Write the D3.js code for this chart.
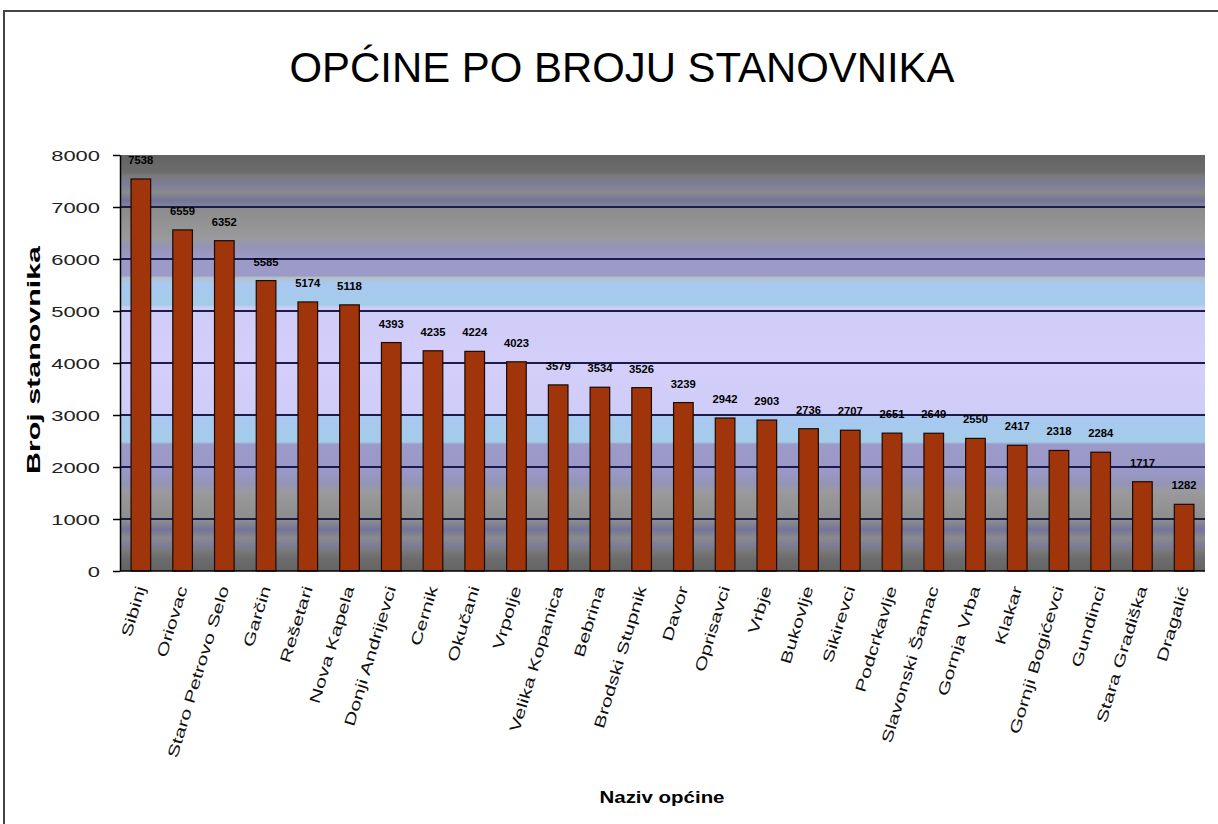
<!DOCTYPE html>
<html>
<head>
<meta charset="utf-8">
<script src="https://cdn.jsdelivr.net/npm/d3@7/dist/d3.min.js"></script>
<style>
  body { margin: 0; background: #fff; }
  svg text { font-family: "Liberation Sans", Arial, sans-serif; }
</style>
</head>
<body>
<div id="chart"></div>
<script>
// municipalities, sorted by population
var opcine = ['Sibinj', 'Oriovac', 'Staro Petrovo Selo', 'Garčin', 'Rešetari', 'Nova Kapela',
  'Donji Andrijevci', 'Cernik', 'Okučani', 'Vrpolje', 'Velika Kopanica', 'Bebrina',
  'Brodski Stupnik', 'Davor', 'Oprisavci', 'Vrbje', 'Bukovlje', 'Sikirevci', 'Podcrkavlje',
  'Slavonski Šamac', 'Gornja Vrba', 'Klakar', 'Gornji Bogićevci', 'Gundinci',
  'Stara Gradiška', 'Dragalić'];
var stanovnika = [7538, 6559, 6352, 5585, 5174, 5118, 4393, 4235, 4224, 4023, 3579, 3534,
  3526, 3239, 2942, 2903, 2736, 2707, 2651, 2649, 2550, 2417, 2318, 2284, 1717, 1282];
var yTicks = [0, 1000, 2000, 3000, 4000, 5000, 6000, 7000, 8000];

var W = 1218, H = 824;
var plotLeft = 120, plotRight = 1205, plotTop = 155, plotBottom = 571;

var svg = d3.select('#chart').append('svg')
  .attr('width', W).attr('height', H);

// frame round the whole chart
svg.append('rect')
  .attr('x', 4).attr('y', 11)
  .attr('width', 1240).attr('height', 840)
  .attr('fill', '#fff')
  .attr('stroke', '#444').attr('stroke-width', 2);

var x = d3.scaleBand().domain(opcine).range([plotLeft, plotRight]).paddingInner(0.53).paddingOuter(0.265);
var y = d3.scaleLinear().domain([0, 8000]).range([plotBottom, plotTop]);

// banded gradient fill of the plot area (symmetric, gray -> purple -> blue -> lavender)
var stops = [
  [0.00, '#646464'], [0.04, '#6c6c6c'], [0.05, '#7a7a7c'], [0.07, '#7c7c98'],
  [0.09, '#8a8a8c'], [0.11, '#74749c'], [0.13, '#8c8c8c'], [0.17, '#949494'],
  [0.20, '#9a9a9e'], [0.22, '#9494b6'], [0.25, '#9c9ac8'], [0.29, '#9c9ac8'],
  [0.295, '#b4c2c8'], [0.31, '#a8c8f2'], [0.36, '#a4cce8'], [0.367, '#d0ccf8'],
  [0.5, '#d3cffa'], [0.622, '#d0ccf8'], [0.63, '#a8c8f2'], [0.69, '#a4cce8'],
  [0.695, '#9c9ac8'], [0.76, '#9a98c8'], [0.79, '#9494b6'], [0.81, '#9a9a9e'],
  [0.84, '#949494'], [0.88, '#8c8c8c'], [0.90, '#74749c'], [0.92, '#8a8a8c'],
  [0.94, '#7c7c98'], [0.95, '#7a7a7c'], [0.97, '#6c6c6c'], [1.00, '#646464']
];
var grad = svg.append('defs').append('linearGradient')
  .attr('id', 'bg').attr('x1', 0).attr('y1', 0).attr('x2', 0).attr('y2', 1);
grad.selectAll('stop').data(stops).enter().append('stop')
  .attr('offset', function(d){ return d[0]; })
  .attr('stop-color', function(d){ return d[1]; });

svg.append('rect')
  .attr('x', plotLeft).attr('y', plotTop)
  .attr('width', plotRight - plotLeft).attr('height', plotBottom - plotTop)
  .attr('fill', 'url(#bg)');

// grid lines
svg.append('g').selectAll('line')
  .data(yTicks.filter(function(t){ return t > 0 && t < 8000; }))
  .enter().append('line')
  .attr('x1', plotLeft).attr('x2', plotRight)
  .attr('y1', function(d){ return y(d); }).attr('y2', function(d){ return y(d); })
  .attr('stroke', '#1c1c48').attr('stroke-width', 2);

// title
svg.append('text')
  .attr('x', 622).attr('y', 82)
  .attr('text-anchor', 'middle')
  .attr('font-size', 42)
  .attr('textLength', 665).attr('lengthAdjust', 'spacingAndGlyphs')
  .attr('fill', '#000')
  .text('OPĆINE PO BROJU STANOVNIKA');

// y axis
var yAxis = svg.append('g')
  .attr('transform', 'translate(' + plotLeft + ',0)')
  .call(d3.axisLeft(y).tickValues(yTicks).tickFormat(d3.format('d')).tickSize(7).tickSizeOuter(0));
yAxis.select('.domain').attr('stroke', '#000').attr('stroke-width', 1.5);
yAxis.selectAll('.tick line').attr('stroke', '#000').attr('stroke-width', 1.5);
yAxis.selectAll('.tick text')
  .attr('x', -20).attr('dy', '0.36em')
  .attr('font-size', 15)
  .attr('fill', '#222')
  .attr('textLength', function(d){ return String(d).length * 12.2; })
  .attr('lengthAdjust', 'spacingAndGlyphs')
  .attr('font-family', '"Liberation Sans", Arial, sans-serif');

svg.append('text')
  .attr('transform', 'translate(40,360) rotate(-90)')
  .attr('text-anchor', 'middle')
  .attr('font-size', 18).attr('font-weight', 'bold')
  .attr('textLength', 228).attr('lengthAdjust', 'spacingAndGlyphs')
  .text('Broj stanovnika');

// bars
svg.append('g').selectAll('rect')
  .data(opcine).enter().append('rect')
  .attr('x', function(d){ return x(d); })
  .attr('width', x.bandwidth())
  .attr('y', function(d, i){ return y(stanovnika[i]); })
  .attr('height', function(d, i){ return plotBottom - y(stanovnika[i]); })
  .attr('fill', '#a0340a')
  .attr('stroke', '#1a0a00').attr('stroke-width', 1.2);

// value labels
svg.append('g').selectAll('text')
  .data(opcine).enter().append('text')
  .attr('x', function(d){ return x(d) + x.bandwidth() / 2; })
  .attr('y', function(d, i){ return y(stanovnika[i]) - 15; })
  .attr('text-anchor', 'middle')
  .attr('font-size', 10).attr('font-weight', 'bold')
  .attr('textLength', 25).attr('lengthAdjust', 'spacingAndGlyphs')
  .text(function(d, i){ return stanovnika[i]; });

// x axis line
svg.append('line')
  .attr('x1', plotLeft).attr('x2', plotRight)
  .attr('y1', plotBottom).attr('y2', plotBottom)
  .attr('stroke', '#000').attr('stroke-width', 1.5);

// category labels, steeply rotated
svg.append('g').selectAll('text')
  .data(opcine).enter().append('text')
  .attr('transform', function(d){
    return 'translate(' + (x(d) + x.bandwidth() / 2 + 5) + ',588) rotate(-73) scale(1.42,1)';
  })
  .attr('text-anchor', 'end')
  .attr('font-size', 15)
  .attr('fill', '#111')
  .text(function(d){ return d; });

svg.append('text')
  .attr('x', 662).attr('y', 803)
  .attr('text-anchor', 'middle')
  .attr('font-size', 17).attr('font-weight', 'bold')
  .attr('textLength', 125).attr('lengthAdjust', 'spacingAndGlyphs')
  .text('Naziv općine');
</script>
</body>
</html>
